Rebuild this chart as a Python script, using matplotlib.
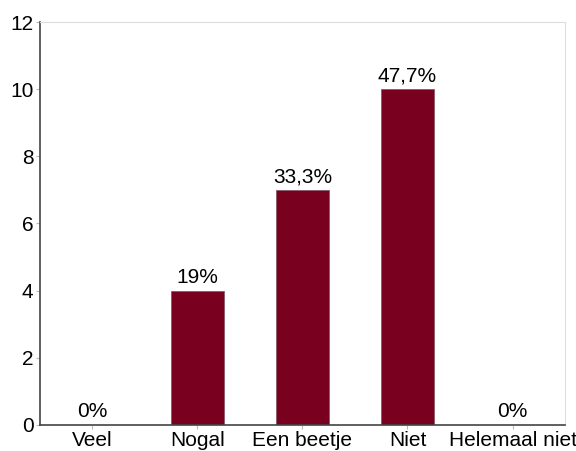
import matplotlib.pyplot as plt

plt.rcParams['font.family'] = ['Liberation Sans', 'DejaVu Sans']

categories = ['Veel', 'Nogal', 'Een beetje', 'Niet', 'Helemaal niet']
counts = [0, 4, 7, 10, 0]
labels = ['0%', '19%', '33,3%', '47,7%', '0%']

fig = plt.figure(figsize=(5.76, 4.51), dpi=100)
ax = fig.add_axes([0.069, 0.058, 0.912, 0.893])

x = range(len(categories))
ax.bar(x, counts, width=0.5, color='#7a0020', edgecolor='#8a5a66', linewidth=0.6)

for i, (c, l) in enumerate(zip(counts, labels)):
    ax.text(i, c + 0.1, l, ha='center', va='bottom', fontsize=15)

ax.set_xlim(-0.5, 4.5)
ax.set_ylim(0, 12)
ax.set_yticks(range(0, 13, 2))
ax.set_xticks(list(x))
ax.set_xticklabels(categories)
ax.tick_params(axis='both', labelsize=15, length=3, color='#bbbbbb', pad=1.5)

for s in ['top', 'right']:
    ax.spines[s].set_color('#dddddd')
for s in ['left', 'bottom']:
    ax.spines[s].set_color('#444444')
    ax.spines[s].set_linewidth(1.2)

fig.savefig('out.png', dpi=100)
